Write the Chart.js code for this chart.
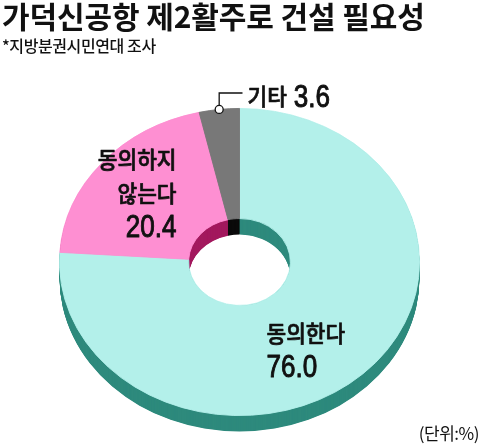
<!DOCTYPE html>
<html><head><meta charset="utf-8">
<script src="https://cdn.jsdelivr.net/npm/chart.js@4.4.0/dist/chart.umd.min.js"></script>
<style>
html,body{margin:0;padding:0;background:#fff;}
#wrap{position:relative;width:480px;height:448px;overflow:hidden;font-family:"Noto Sans CJK KR","Noto Sans",sans-serif;color:#111;}
#c{position:absolute;left:0;top:0;}
#title{position:absolute;left:2px;top:-5px;font-size:30px;font-weight:700;letter-spacing:-0.1px;white-space:nowrap;line-height:40px;}
#sub{position:absolute;left:2px;top:35px;font-size:16px;font-weight:500;letter-spacing:-0.4px;white-space:nowrap;line-height:20px;}
#unit{position:absolute;right:1px;top:423px;font-size:17px;letter-spacing:-0.5px;white-space:nowrap;line-height:20px;}
</style></head>
<body><div id="wrap">
<canvas id="c" width="480" height="448"></canvas>
<div id="title">가덕신공항 제2활주로 건설 필요성</div>
<div id="sub">*지방분권시민연대 조사</div>
<div id="unit">(단위:%)</div>
</div>
<script>
const categories = ['동의한다', '동의하지 않는다', '기타'];
const labelLines = [['동의한다'], ['동의하지', '않는다'], ['기타']];
const values = [76.0, 20.4, 3.6];
const valueLabels = ['76.0', '20.4', '3.6'];
const topColors = ['#b3f0ea', '#fe8fd2', '#787878'];
const sideColors = ['#2e8a7d', '#a3195e', '#0b0b0b'];

const SCREEN_CY = 262, SQUASH = 0.853, DEPTH = 16;

function applyTilt(ctx, meta, extra) {
  const cyc = meta.data[0].y;
  ctx.translate(0, SCREEN_CY + extra);
  ctx.scale(1, SQUASH);
  ctx.translate(0, -cyc);
}
function ringPath(ctx, a) {
  ctx.beginPath();
  ctx.arc(a.x, a.y, a.outerRadius, a.startAngle, a.endAngle);
  ctx.arc(a.x, a.y, a.innerRadius, a.endAngle, a.startAngle, true);
  ctx.closePath();
}
function toScreen(meta, x, y) {
  const cyc = meta.data[0].y;
  return {x: x, y: SCREEN_CY + SQUASH * (y - cyc)};
}
function txt(ctx, s, x, y, font, align, base, sx, bold) {
  ctx.save();
  ctx.translate(x, y);
  ctx.scale(sx, 1);
  ctx.font = font;
  ctx.textAlign = align;
  ctx.textBaseline = base;
  ctx.fillStyle = '#111';
  ctx.fillText(s, 0, 0);
  if (bold) {
    ctx.strokeStyle = '#111';
    ctx.lineWidth = bold;
    ctx.lineJoin = 'round';
    ctx.strokeText(s, 0, 0);
  }
  ctx.restore();
}
const KFONT = '500 23px "Noto Sans CJK KR"';
const NFONT = '31px "Liberation Sans"';
const KS = 0.93, NS = 0.84, KB = 0.7, NB = 1.0;

const tiltPlugin = {
  id: 'tilt',
  beforeDatasetsDraw(chart) {
    const ctx = chart.ctx, meta = chart.getDatasetMeta(0);
    for (let d = DEPTH; d >= 0.5; d -= 0.5) {
      ctx.save();
      applyTilt(ctx, meta, d);
      meta.data.forEach((a, i) => { ringPath(ctx, a); ctx.fillStyle = sideColors[i]; ctx.fill(); });
      ctx.restore();
    }
    ctx.save();
    applyTilt(ctx, meta, 0);
  },
  afterDatasetsDraw(chart) {
    const ctx = chart.ctx, meta = chart.getDatasetMeta(0);
    ctx.restore();
    const cx = meta.data[0].x, cy = SCREEN_CY;
    // 동의한다
    txt(ctx, labelLines[0][0], cx + 27, cy + 71, KFONT, 'left', 'middle', KS, KB);
    txt(ctx, valueLabels[0], cx + 27, cy + 115, NFONT, 'left', 'alphabetic', NS, NB);
    // 동의하지 않는다
    txt(ctx, labelLines[1][0], cx - 63, cy - 103, KFONT, 'right', 'middle', KS, KB);
    txt(ctx, labelLines[1][1], cx - 63, cy - 69, KFONT, 'right', 'middle', KS, KB);
    txt(ctx, valueLabels[1], cx - 63, cy - 25, NFONT, 'right', 'alphabetic', NS, NB);
    // 기타 leader
    const g = meta.data[2];
    const mid = (g.startAngle + g.endAngle) / 2;
    const p = toScreen(meta, g.x + g.outerRadius * Math.cos(mid), g.y + g.outerRadius * Math.sin(mid));
    const ly = 93;
    ctx.save();
    ctx.strokeStyle = '#111';
    ctx.lineWidth = 1.3;
    ctx.beginPath();
    ctx.moveTo(p.x, p.y - 3);
    ctx.lineTo(p.x, ly);
    ctx.lineTo(cx + 3, ly);
    ctx.stroke();
    ctx.beginPath();
    ctx.arc(p.x, p.y, 4, 0, Math.PI * 2);
    ctx.fillStyle = '#fff';
    ctx.fill();
    ctx.stroke();
    ctx.restore();
    const tx = cx + 8;
    txt(ctx, labelLines[2][0], tx, 96, KFONT, 'left', 'middle', KS, KB);
    ctx.save(); ctx.font = KFONT; const w = ctx.measureText(labelLines[2][0]).width * KS; ctx.restore();
    txt(ctx, valueLabels[2], tx + w + 7, 107, NFONT, 'left', 'alphabetic', NS, NB);
  }
};

new Chart(document.getElementById('c'), {
  type: 'doughnut',
  data: {
    labels: categories,
    datasets: [{
      data: values,
      backgroundColor: topColors,
      borderColor: topColors,
      borderWidth: 1,
      clip: false
    }]
  },
  options: {
    responsive: false,
    animation: false,
    cutout: '28.3%',
    layout: {padding: {left: 59, right: 60, top: 40, bottom: 47}},
    plugins: {legend: {display: false}, tooltip: {enabled: false}, title: {display: false}},
    events: []
  },
  plugins: [tiltPlugin]
});
</script>
</body></html>
